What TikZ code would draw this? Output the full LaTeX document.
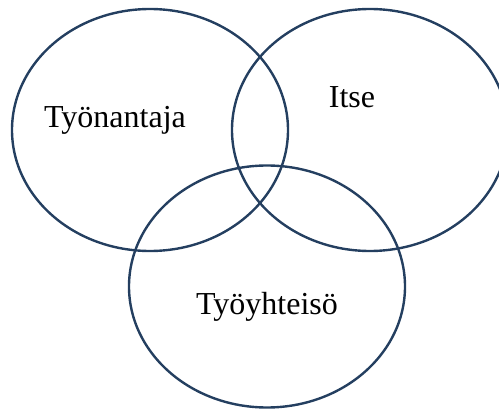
\documentclass[tikz,border=0pt]{standalone}
\usepackage{fontspec}
\setmainfont{Liberation Serif}
\usetikzlibrary{shapes.geometric}
\definecolor{navy}{HTML}{243F60}
\begin{document}
\begin{tikzpicture}[x=1pt,y=-1pt,
  ring/.style={ellipse,draw=navy,line width=2.4pt,inner sep=0pt,minimum width=276pt,minimum height=242pt},
  lbl/.style={anchor=base,inner sep=0pt,font=\fontsize{32}{37}\selectfont}]
\useasboundingbox (0,0) rectangle (499,409);
\clip (0,0) rectangle (499,409);
\node[ring] (emp) at (150,130) {};
\node[ring] (self) at (370,130) {};
\node[ring] (comm) at (267,286.5) {};
\node[lbl] (t1) at (115,128) {Työnantaja};
\node[lbl] (t2) at (352,108) {Itse};
\node[lbl] (t3) at (267,315) {Työyhteisö};
\end{tikzpicture}
\end{document}
